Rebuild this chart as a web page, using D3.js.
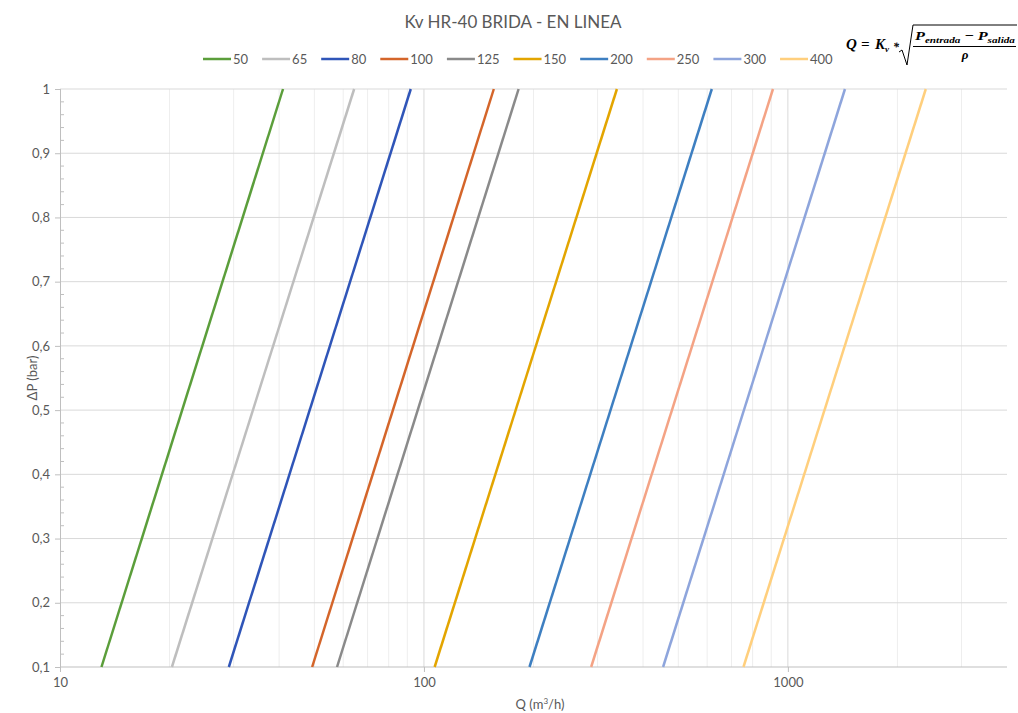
<!DOCTYPE html>
<html>
<head>
<meta charset="utf-8">
<script src="https://cdn.jsdelivr.net/npm/d3@7"></script>
<style>
  body { margin: 0; background: #fff; }
  svg { display: block; }
  text { font-family: Lato, "Open Sans", sans-serif; fill: #595959; }
  .math text { font-family: "Liberation Serif", "DejaVu Serif", serif; fill: #000; font-style: italic; font-weight: bold; }
</style>
</head>
<body>
<div id="chart"></div>
<script>
// DN sizes, Q (m3/h) read at dP = 0.1 bar and at dP = 1 bar
let sizes = ["50", "65", "80", "100", "125", "150", "200", "250", "300", "400"];
let qLow = [13, 20.3, 29.1, 49.3, 57.7, 107, 195, 288, 454, 755];
let qHigh = [41, 64.3, 92, 155.6, 182, 339, 618, 910, 1435, 2393];
let dpLow = 0.1;
let dpHigh = 1;
let colors = ["#5b9e3b", "#bebebe", "#2f55b8", "#d4652a", "#8a8a8a",
              "#e3a500", "#3e7fc1", "#f4a385", "#8ea5dc", "#ffcf7d"];
let yTicks = [0.1, 0.2, 0.3, 0.4, 0.5, 0.6, 0.7, 0.8, 0.9, 1];
let xTicks = [10, 100, 1000];

let svgWidth = 1018;
let svgHeight = 713;
let margin = { top: 89, right: 11, bottom: 46, left: 60 };
let width = svgWidth - margin.left - margin.right;
let height = svgHeight - margin.top - margin.bottom;

let svg = d3.select("#chart").append("svg")
    .attr("width", svgWidth)
    .attr("height", svgHeight);

let chartGroup = svg.append("g")
    .attr("transform", `translate(${margin.left}, ${margin.top})`);

let x = d3.scaleLog().domain([10, 4000]).range([0, width]);
let y = d3.scaleLinear().domain([0.1, 1]).range([height, 0]);

// minor vertical gridlines
let minorX = [];
[10, 100, 1000].forEach(function (d) {
    for (let k = 2; k <= 9; k++) {
        if (d * k < 4000) minorX.push(d * k);
    }
});
chartGroup.selectAll(".minor-x").data(minorX).enter().append("line")
    .attr("x1", d => x(d)).attr("x2", d => x(d))
    .attr("y1", 0).attr("y2", height)
    .attr("stroke", "#eeeeee").attr("stroke-width", 1);

// major vertical gridlines
chartGroup.selectAll(".major-x").data([100, 1000]).enter().append("line")
    .attr("x1", d => x(d)).attr("x2", d => x(d))
    .attr("y1", 0).attr("y2", height)
    .attr("stroke", "#d9d9d9").attr("stroke-width", 1);

// horizontal gridlines
chartGroup.selectAll(".major-y").data(yTicks.slice(1)).enter().append("line")
    .attr("x1", 0).attr("x2", width)
    .attr("y1", d => y(d)).attr("y2", d => y(d))
    .attr("stroke", "#d9d9d9").attr("stroke-width", 1);

// x axis
let bottomAxis = d3.axisBottom(x).tickValues(xTicks).tickFormat(d3.format("d")).tickSize(5).tickPadding(6);
let xAxisG = chartGroup.append("g")
    .attr("transform", `translate(0, ${height})`)
    .call(bottomAxis);
xAxisG.select(".domain").attr("stroke", "#bfbfbf").attr("d", `M0.5,0V0H${width}V0`);
xAxisG.selectAll(".tick line").attr("stroke", "#bfbfbf");
xAxisG.selectAll("text").attr("font-size", 13).attr("fill", "#595959").attr("font-family", "Lato");

// y axis
let leftAxis = d3.axisLeft(y).tickValues(yTicks).tickFormat(d => d3.format(".1f")(d).replace(".", ",").replace(",0", ""))
    .tickSize(5).tickPadding(5);
let yAxisG = chartGroup.append("g").call(leftAxis);
yAxisG.select(".domain").attr("stroke", "#bfbfbf").attr("d", `M0.5,0V${height}`);
yAxisG.selectAll(".tick line").attr("stroke", "#bfbfbf");
yAxisG.selectAll("text").attr("font-size", 13).attr("fill", "#595959").attr("font-family", "Lato");

// minor y ticks (inside)
let minorY = d3.range(0.12, 1, 0.02).filter(v => Math.abs(v * 10 - Math.round(v * 10)) > 0.01);
chartGroup.selectAll(".minor-y").data(minorY).enter().append("line")
    .attr("x1", 1).attr("x2", 4)
    .attr("y1", d => y(d)).attr("y2", d => y(d))
    .attr("stroke", "#bfbfbf").attr("stroke-width", 1);

// series lines
let series = sizes.map(function (s, i) {
    return { name: s, color: colors[i], pts: [{ q: qLow[i], dp: dpLow }, { q: qHigh[i], dp: dpHigh }] };
});
let line = d3.line().x(d => x(d.q)).y(d => y(d.dp));
chartGroup.selectAll(".series").data(series).enter().append("path")
    .attr("d", d => line(d.pts))
    .attr("fill", "none")
    .attr("stroke", d => d.color)
    .attr("stroke-width", 2.5);

// title
svg.append("text")
    .attr("x", 513).attr("y", 28)
    .attr("text-anchor", "middle")
    .attr("font-size", 17)
    .text("Kv HR-40 BRIDA - EN LINEA");

// legend
let legend = svg.append("g").attr("transform", "translate(203, 59)");
let lx = 0;
series.forEach(function (d) {
    legend.append("line")
        .attr("x1", lx).attr("x2", lx + 28)
        .attr("y1", 0).attr("y2", 0)
        .attr("stroke", d.color).attr("stroke-width", 2.5);
    let t = legend.append("text")
        .attr("x", lx + 30).attr("y", 4.5)
        .attr("font-size", 13)
        .text(d.name);
    lx += 30 + t.node().getComputedTextLength() + 14;
});

// axis titles
svg.append("text")
    .attr("transform", "translate(37, 378) rotate(-90)")
    .attr("text-anchor", "middle")
    .attr("font-size", 13)
    .text("ΔP (bar)");

let xt = svg.append("text")
    .attr("x", 540).attr("y", 709)
    .attr("text-anchor", "middle")
    .attr("font-size", 13);
xt.append("tspan").text("Q (m");
xt.append("tspan").attr("font-size", 8).attr("dy", -5).text("3");
xt.append("tspan").attr("dy", 5).text("/h)");

// formula
let math = svg.append("g").attr("class", "math");
math.append("text").attr("x", 846).attr("y", 49).attr("font-size", 15).text("Q");
math.append("text").attr("x", 861).attr("y", 49).attr("font-size", 15).attr("font-style", "normal").text("=");
math.append("text").attr("x", 875).attr("y", 49).attr("font-size", 15).text("K");
math.append("text").attr("x", 885).attr("y", 52).attr("font-size", 9).text("v");
math.append("text").attr("x", 893).attr("y", 51).attr("font-size", 12).attr("font-style", "normal").text("*");
math.append("path")
    .attr("d", "M899,52 L902,50 L907,65 L913,25 L1017,25")
    .attr("fill", "none").attr("stroke", "#000").attr("stroke-width", 1);
let num = math.append("text").attr("x", 915).attr("y", 40).attr("font-size", 13)
    .attr("textLength", 100).attr("lengthAdjust", "spacingAndGlyphs");
num.append("tspan").text("P");
num.append("tspan").attr("font-size", 9).attr("dy", 3).text("entrada");
num.append("tspan").attr("font-style", "normal").attr("dy", -3).text(" − ");
num.append("tspan").text("P");
num.append("tspan").attr("font-size", 9).attr("dy", 3).text("salida");
math.append("line")
    .attr("x1", 913).attr("x2", 1016).attr("y1", 46.5).attr("y2", 46.5)
    .attr("stroke", "#000").attr("stroke-width", 1);
math.append("text").attr("x", 965).attr("y", 59).attr("font-size", 13)
    .attr("text-anchor", "middle").text("ρ");
</script>
</body>
</html>
